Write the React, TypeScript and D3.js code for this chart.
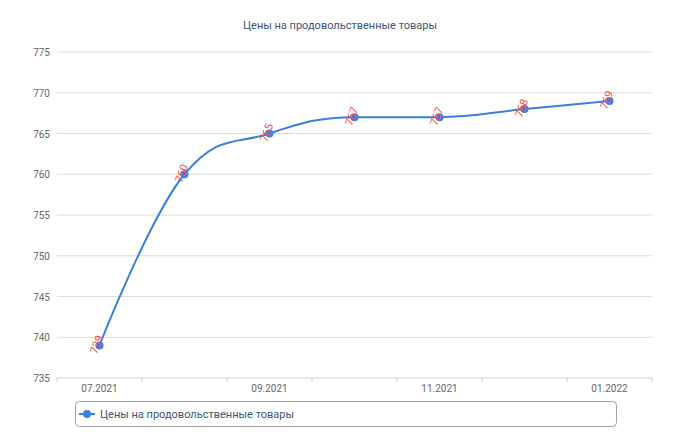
import { useEffect, useRef } from "react";
import * as d3 from "d3";

const title = "Цены на продовольственные товары";
const seriesName = "Цены на продовольственные товары";
const months = ["07.2021", "08.2021", "09.2021", "10.2021", "11.2021", "12.2021", "01.2022"];
const prices = [739, 760, 765, 767, 767, 768, 769];
const yTicks = [735, 740, 745, 750, 755, 760, 765, 770, 775];

const width = 680;
const height = 445;
const margin = { top: 52, right: 28, bottom: 67, left: 57 };
const lineColor = "#3b80de";
const font = "Roboto, 'DejaVu Sans', sans-serif";

// Highcharts-style spline through the points
function splinePath(pts: [number, number][]) {
  const smoothing = 1.5;
  const denom = smoothing + 1;
  const rightCont: ([number, number] | null)[] = pts.map(() => null);
  let d = "";
  pts.forEach(([px, py], i) => {
    if (i === 0) {
      d += `M${px},${py}`;
      return;
    }
    let leftContX: number | null = null;
    let leftContY: number | null = null;
    if (i < pts.length - 1) {
      const [lastX, lastY] = pts[i - 1];
      const [nextX, nextY] = pts[i + 1];
      leftContX = (smoothing * px + lastX) / denom;
      leftContY = (smoothing * py + lastY) / denom;
      const rightContX = (smoothing * px + nextX) / denom;
      let rightContY = (smoothing * py + nextY) / denom;
      let correction = 0;
      if (rightContX !== leftContX) {
        correction =
          ((rightContY - leftContY) * (rightContX - px)) / (rightContX - leftContX) + py - rightContY;
      }
      leftContY += correction;
      rightContY += correction;
      if (leftContY > lastY && leftContY > py) {
        leftContY = Math.max(lastY, py);
        rightContY = 2 * py - leftContY;
      } else if (leftContY < lastY && leftContY < py) {
        leftContY = Math.min(lastY, py);
        rightContY = 2 * py - leftContY;
      }
      if (rightContY > nextY && rightContY > py) {
        rightContY = Math.max(nextY, py);
        leftContY = 2 * py - rightContY;
      } else if (rightContY < nextY && rightContY < py) {
        rightContY = Math.min(nextY, py);
        leftContY = 2 * py - rightContY;
      }
      rightCont[i] = [rightContX, rightContY];
    }
    const prev = rightCont[i - 1] ?? pts[i - 1];
    d += `C${prev[0]},${prev[1]} ${leftContX ?? px},${leftContY ?? py} ${px},${py}`;
  });
  return d;
}

export default function App() {
  const ref = useRef<SVGSVGElement | null>(null);

  useEffect(() => {
    if (!ref.current) return;
    const svg = d3.select(ref.current);
    svg.selectAll("*").remove();

    const x = d3
      .scaleBand<string>()
      .domain(months)
      .range([margin.left, width - margin.right]);
    const y = d3
      .scaleLinear()
      .domain([735, 775])
      .range([height - margin.bottom, margin.top]);

    // title
    svg
      .append("text")
      .attr("x", width / 2)
      .attr("y", 29)
      .attr("text-anchor", "middle")
      .attr("font-size", 11)
      .attr("fill", "#3E576F")
      .text(title);

    // grid
    svg
      .append("g")
      .selectAll("line")
      .data(yTicks.slice(1))
      .enter()
      .append("line")
      .attr("x1", margin.left)
      .attr("x2", width - margin.right)
      .attr("y1", (d) => y(d))
      .attr("y2", (d) => y(d))
      .attr("stroke", "#dcdcdc")
      .attr("stroke-width", 1);

    // y labels
    svg
      .append("g")
      .selectAll("text")
      .data(yTicks)
      .enter()
      .append("text")
      .attr("x", 50)
      .attr("y", (d) => y(d) + 4)
      .attr("text-anchor", "end")
      .attr("font-size", 10)
      .attr("fill", "#666")
      .text((d) => d);

    // x axis
    const axisY = y(735);
    svg
      .append("line")
      .attr("x1", margin.left)
      .attr("x2", width - margin.right)
      .attr("y1", axisY)
      .attr("y2", axisY)
      .attr("stroke", "#c0d0e0");
    const boundaries = months.map((m) => x(m)!).concat([width - margin.right]);
    svg
      .append("g")
      .selectAll("line")
      .data(boundaries)
      .enter()
      .append("line")
      .attr("x1", (d) => d)
      .attr("x2", (d) => d)
      .attr("y1", axisY)
      .attr("y2", axisY + 4)
      .attr("stroke", "#c0d0e0");
    svg
      .append("g")
      .selectAll("text")
      .data(months.filter((_, i) => i % 2 === 0))
      .enter()
      .append("text")
      .attr("x", (d) => x(d)! + x.bandwidth() / 2)
      .attr("y", axisY + 14)
      .attr("text-anchor", "middle")
      .attr("font-size", 10)
      .attr("fill", "#666")
      .text((d) => d);

    // line
    const pts: [number, number][] = months.map((m, i) => [x(m)! + x.bandwidth() / 2, y(prices[i])]);
    svg
      .append("path")
      .attr("d", splinePath(pts))
      .attr("fill", "none")
      .attr("stroke", lineColor)
      .attr("stroke-width", 2);

    svg
      .append("g")
      .selectAll("circle")
      .data(pts)
      .enter()
      .append("circle")
      .attr("cx", (d) => d[0])
      .attr("cy", (d) => d[1])
      .attr("r", 4)
      .attr("fill", lineColor);

    // data labels
    svg
      .append("g")
      .selectAll("text")
      .data(pts)
      .enter()
      .append("text")
      .attr("transform", (d) => `translate(${d[0] - 3},${d[1] - 1}) rotate(-70)`)
      .attr("text-anchor", "middle")
      .attr("dy", "0.35em")
      .attr("font-size", 11)
      .attr("fill", "#ff4545")
      .text((_, i) => prices[i]);

    // legend
    const lg = svg.append("g");
    lg.append("rect")
      .attr("x", 75.5)
      .attr("y", 401.5)
      .attr("width", 541)
      .attr("height", 25)
      .attr("rx", 4)
      .attr("fill", "white")
      .attr("stroke", "#a0a0a0");
    lg.append("line")
      .attr("x1", 79)
      .attr("x2", 95)
      .attr("y1", 414)
      .attr("y2", 414)
      .attr("stroke", lineColor)
      .attr("stroke-width", 2);
    lg.append("circle").attr("cx", 87).attr("cy", 414).attr("r", 4).attr("fill", lineColor);
    lg.append("text")
      .attr("x", 100)
      .attr("y", 418)
      .attr("font-size", 11)
      .attr("fill", "#3E576F")
      .text(seriesName);
  }, []);

  return (
    <svg
      ref={ref}
      width={width}
      height={height}
      style={{ position: "absolute", left: 0, top: 0, fontFamily: font, background: "white" }}
    />
  );
}
